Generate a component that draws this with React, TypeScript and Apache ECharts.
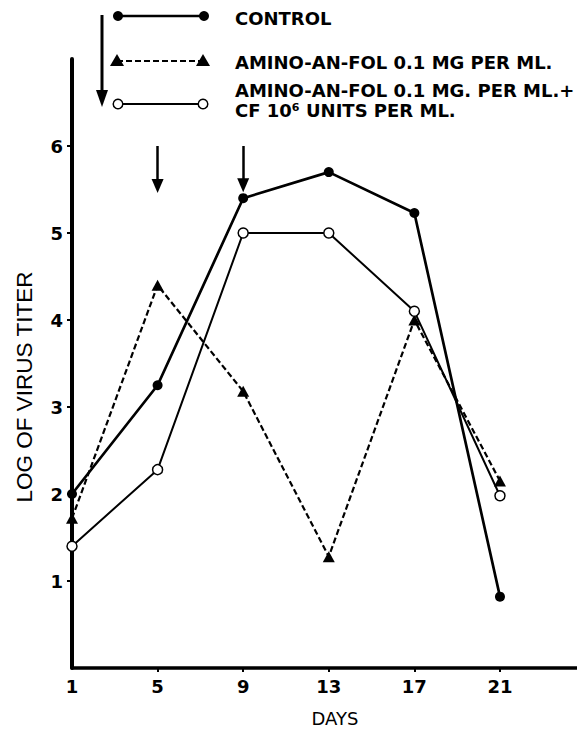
import React, { useEffect, useRef } from "react";
import * as echarts from "echarts";

const days = [1, 5, 9, 13, 17, 21];
const control = [2.0, 3.25, 5.4, 5.7, 5.23, 0.82];
const aminoAnFol = [1.72, 4.4, 3.18, 1.28, 4.0, 2.15];
const aminoAnFolCf = [1.4, 2.28, 5.0, 5.0, 4.1, 1.98];
const yTicks = [1, 2, 3, 4, 5, 6];
const xTicks = [1, 5, 9, 13, 17, 21];
const arrowDays = [5, 9];
const arrowTop = 6.0;
const arrowHeadCenters = [5.54, 5.55];

const legendNames = [
  "CONTROL",
  "AMINO-AN-FOL 0.1 MG PER ML.",
  "AMINO-AN-FOL 0.1 MG. PER ML.+",
  "CF 10\u2076 UNITS PER ML.",
];

const FONT = "DejaVu Sans";

export default function App() {
  const ref = useRef<HTMLDivElement>(null);
  useEffect(() => {
    if (!ref.current) return;
    const chart = echarts.init(ref.current, null, { renderer: "svg" });
    const black = "#000";
    const toPairs = (vals: number[]) => days.map((d, i) => [d, vals[i]]);
    const legendFont = `bold 18px "${FONT}"`;

    const graphic: any[] = [
      // big arrow at legend
      { type: "line", shape: { x1: 102, y1: 15, x2: 102, y2: 95 }, style: { stroke: black, lineWidth: 3 } },
      { type: "polygon", shape: { points: [[96, 90], [108, 90], [102, 107]] }, style: { fill: black } },
      // control legend
      { type: "line", shape: { x1: 118, y1: 16, x2: 204, y2: 16 }, style: { stroke: black, lineWidth: 2.7 } },
      { type: "circle", shape: { cx: 118, cy: 16, r: 5 }, style: { fill: black } },
      { type: "circle", shape: { cx: 204, cy: 16, r: 5 }, style: { fill: black } },
      // amino legend
      { type: "line", shape: { x1: 117, y1: 61, x2: 203, y2: 61 }, style: { stroke: black, lineWidth: 2.2, lineDash: [6, 3] } },
      { type: "polygon", shape: { points: [[117, 54], [110, 66], [124, 66]] }, style: { fill: black } },
      { type: "polygon", shape: { points: [[203, 54], [196, 66], [210, 66]] }, style: { fill: black } },
      // amino + cf legend
      { type: "line", shape: { x1: 118, y1: 104, x2: 203, y2: 104 }, style: { stroke: black, lineWidth: 2 } },
      { type: "circle", shape: { cx: 118, cy: 104, r: 4.8 }, style: { fill: "#fff", stroke: black, lineWidth: 1.5 }, z: 10 },
      { type: "circle", shape: { cx: 203, cy: 104, r: 4.8 }, style: { fill: "#fff", stroke: black, lineWidth: 1.5 }, z: 10 },
      // legend texts
      { type: "text", x: 235, y: 18, style: { text: legendNames[0], font: legendFont, fill: black, verticalAlign: "middle" } },
      { type: "text", x: 235, y: 62, style: { text: legendNames[1], font: legendFont, fill: black, verticalAlign: "middle" } },
      { type: "text", x: 235, y: 90, style: { text: legendNames[2], font: legendFont, fill: black, verticalAlign: "middle" } },
      { type: "text", x: 235, y: 110, style: { text: legendNames[3], font: legendFont, fill: black, verticalAlign: "middle" } },
      // axis titles
      {
        type: "text", x: 24, y: 387, rotation: Math.PI / 2,
        style: { text: "LOG OF VIRUS TITER", font: `22.5px "Liberation Sans"`, fill: black, align: "center", verticalAlign: "middle" },
      },
      { type: "text", x: 335, y: 718, style: { text: "DAYS", font: `18px "${FONT}"`, fill: black, align: "center", verticalAlign: "middle" } },
    ];

    chart.setOption({
      animation: false,
      backgroundColor: "#fff",
      grid: { left: 72, right: 0, top: 59, bottom: 64 },
      xAxis: {
        type: "value",
        min: 1,
        max: 24.6,
        axisLine: { show: true, onZero: false, lineStyle: { color: black, width: 3.5 } },
        axisTick: { show: true, customValues: xTicks.slice(1), length: 4, lineStyle: { color: black, width: 2 } },
        axisLabel: { customValues: xTicks, margin: 9, color: black, fontFamily: FONT, fontWeight: "bold", fontSize: 18 },
        splitLine: { show: false },
      },
      yAxis: {
        type: "value",
        min: 0,
        max: 7,
        axisLine: { show: true, onZero: false, lineStyle: { color: black, width: 4 } },
        axisTick: { show: true, customValues: yTicks, length: 5, lineStyle: { color: black, width: 2 } },
        axisLabel: { customValues: yTicks, margin: 9, color: black, fontFamily: FONT, fontWeight: "bold", fontSize: 18 },
        splitLine: { show: false },
      },
      graphic,
      series: [
        {
          name: legendNames[0],
          type: "line",
          data: toPairs(control),
          symbol: "circle",
          symbolSize: 10,
          lineStyle: { color: black, width: 2.7 },
          itemStyle: { color: black },
          z: 3,
          markLine: {
            silent: true,
            symbol: ["none", "triangle"],
            symbolSize: [12, 14],
            label: { show: false },
            lineStyle: { color: black, width: 2.5, type: "solid" },
            data: arrowDays.map((d, i) => [
              { coord: [d, arrowTop] },
              { coord: [d, arrowHeadCenters[i]] },
            ]),
          },
        },
        {
          name: legendNames[1],
          type: "line",
          data: toPairs(aminoAnFol),
          symbol: "triangle",
          symbolSize: [12, 11],
          lineStyle: { color: black, width: 2.2, type: [6, 3] },
          itemStyle: { color: black },
          z: 2,
        },
        {
          name: legendNames[2],
          type: "line",
          data: toPairs(aminoAnFolCf),
          symbol: "circle",
          symbolSize: 10,
          lineStyle: { color: black, width: 2 },
          itemStyle: { color: "#fff", borderColor: black, borderWidth: 1.5 },
          z: 4,
        },
      ],
    });
    return () => chart.dispose();
  }, []);
  return (
    <div
      ref={ref}
      style={{ position: "fixed", left: 0, top: 0, width: 577, height: 732, background: "#fff" }}
    />
  );
}
